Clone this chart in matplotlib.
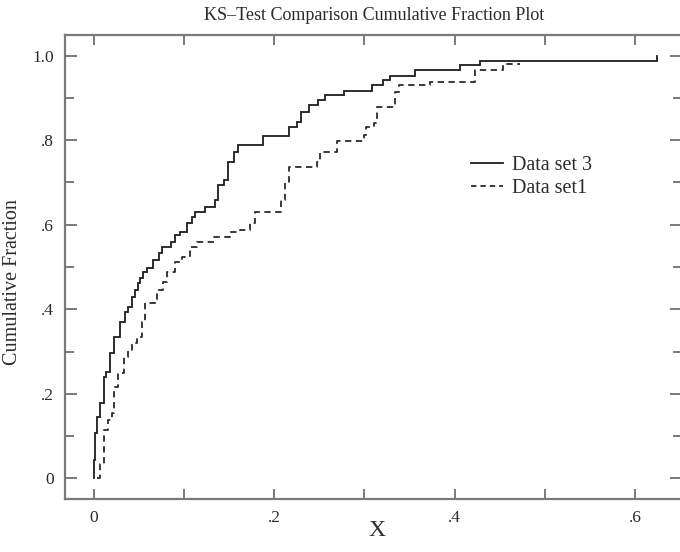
import matplotlib
matplotlib.use("Agg")
import matplotlib.pyplot as plt
from matplotlib.lines import Line2D

# Empirical cumulative fractions (step positions and levels after each step)
set3_x = [0.000, 0.000, 0.0015, 0.003, 0.007, 0.011, 0.014, 0.018, 0.022, 0.029,
          0.035, 0.038, 0.042, 0.046, 0.049, 0.051, 0.054, 0.059, 0.066, 0.072,
          0.076, 0.085, 0.090, 0.096, 0.103, 0.109, 0.112, 0.123, 0.134, 0.138,
          0.144, 0.149, 0.155, 0.160, 0.188, 0.216, 0.225, 0.230, 0.238, 0.249,
          0.256, 0.277, 0.308, 0.321, 0.328, 0.356, 0.406, 0.428, 0.624]
set3_y = [0.000, 0.043, 0.106, 0.146, 0.177, 0.240, 0.252, 0.296, 0.335, 0.370,
          0.394, 0.406, 0.430, 0.446, 0.461, 0.473, 0.489, 0.497, 0.517, 0.532,
          0.548, 0.560, 0.576, 0.584, 0.603, 0.619, 0.631, 0.643, 0.659, 0.694,
          0.706, 0.749, 0.773, 0.788, 0.810, 0.832, 0.844, 0.867, 0.883, 0.895,
          0.907, 0.916, 0.931, 0.943, 0.953, 0.966, 0.978, 0.988, 1.000]

set1_x = [0.003, 0.007, 0.011, 0.016, 0.020, 0.022, 0.027, 0.033, 0.038, 0.042,
          0.048, 0.053, 0.057, 0.070, 0.077, 0.081, 0.090, 0.098, 0.107, 0.114,
          0.133, 0.151, 0.162, 0.173, 0.179, 0.208, 0.212, 0.216, 0.247, 0.251,
          0.269, 0.299, 0.302, 0.310, 0.314, 0.334, 0.338, 0.373, 0.422, 0.454,
          0.472]
set1_y = [0.000, 0.035, 0.114, 0.138, 0.154, 0.217, 0.248, 0.288, 0.304, 0.319,
          0.335, 0.371, 0.414, 0.446, 0.465, 0.489, 0.513, 0.524, 0.548, 0.560,
          0.572, 0.584, 0.588, 0.603, 0.631, 0.659, 0.702, 0.737, 0.749, 0.773,
          0.797, 0.812, 0.832, 0.840, 0.879, 0.915, 0.931, 0.938, 0.966, 0.980,
          0.980]

x_major = [0.0, 0.2, 0.4, 0.6]
x_major_labels = ["0", ".2", ".4", ".6"]
x_minor = [0.1, 0.3, 0.5]
y_major = [0.0, 0.2, 0.4, 0.6, 0.8, 1.0]
y_major_labels = ["0", ".2", ".4", ".6", ".8", "1.0"]
y_minor = [0.1, 0.3, 0.5, 0.7, 0.9]

serif = "Liberation Serif"
text_color = "#2b2b2b"
axis_color = "#7a7a7a"

fig = plt.figure(figsize=(6.8, 5.52), dpi=100)
ax = fig.add_axes([65 / 680, 1 - 499 / 552, (682 - 65) / 680, (499 - 34.7) / 552])

ax.plot(set3_x, set3_y, drawstyle="steps-post", color="#1e1e1e", lw=1.3,
        solid_joinstyle="miter")
ax.plot(set1_x, set1_y, drawstyle="steps-post", color="#2a2a2a", lw=1.3,
        linestyle=(0, (3.5, 2.5)))

ax.set_xlim(-0.032, 0.652)
ax.set_ylim(-0.049, 1.0497)

ax.set_xticks(x_major)
ax.set_xticklabels(x_major_labels)
ax.set_xticks(x_minor, minor=True)
ax.set_yticks(y_major)
ax.set_yticklabels(y_major_labels)
ax.set_yticks(y_minor, minor=True)

for spine in ax.spines.values():
    spine.set_color(axis_color)
    spine.set_linewidth(1.6)

ax.tick_params(axis="both", which="both", direction="in", top=True, right=True,
               color=axis_color, width=1.4, labelcolor=text_color)
ax.tick_params(axis="x", which="both", length=7.5, pad=8)
ax.tick_params(axis="y", which="major", length=8.5, pad=8)
ax.tick_params(axis="y", which="minor", length=6.5)
for lab in ax.get_xticklabels() + ax.get_yticklabels():
    lab.set_fontfamily(serif)
    lab.set_fontsize(12.5)

fig.text(374 / 680, 1 - 16 / 552, "KS\u2013Test Comparison Cumulative Fraction Plot",
         ha="center", va="center", family=serif, fontsize=13, color=text_color)
fig.text(377 / 680, 1 - 531 / 552, "X", ha="center", va="center",
         family=serif, fontsize=17, color=text_color)
fig.text(13 / 680, 1 - 282 / 552, "Cumulative Fraction", ha="center", va="center",
         rotation=90, family=serif, fontsize=14.5, color=text_color)

handles = [Line2D([], [], color="#1e1e1e", lw=1.3),
           Line2D([], [], color="#2a2a2a", lw=1.3, linestyle=(0, (3.0, 2.2)))]
leg = ax.legend(handles, ["Data set 3", "Data set1"], loc="upper left",
                bbox_to_anchor=((463 - 65) / 617, (499 - 147.5) / 464.3),
                frameon=False, handlelength=1.6, handletextpad=0.45,
                labelspacing=0.2, borderaxespad=0,
                prop={"family": serif, "size": 14.5})
for t in leg.get_texts():
    t.set_color(text_color)

fig.savefig("out.png", dpi=100)
